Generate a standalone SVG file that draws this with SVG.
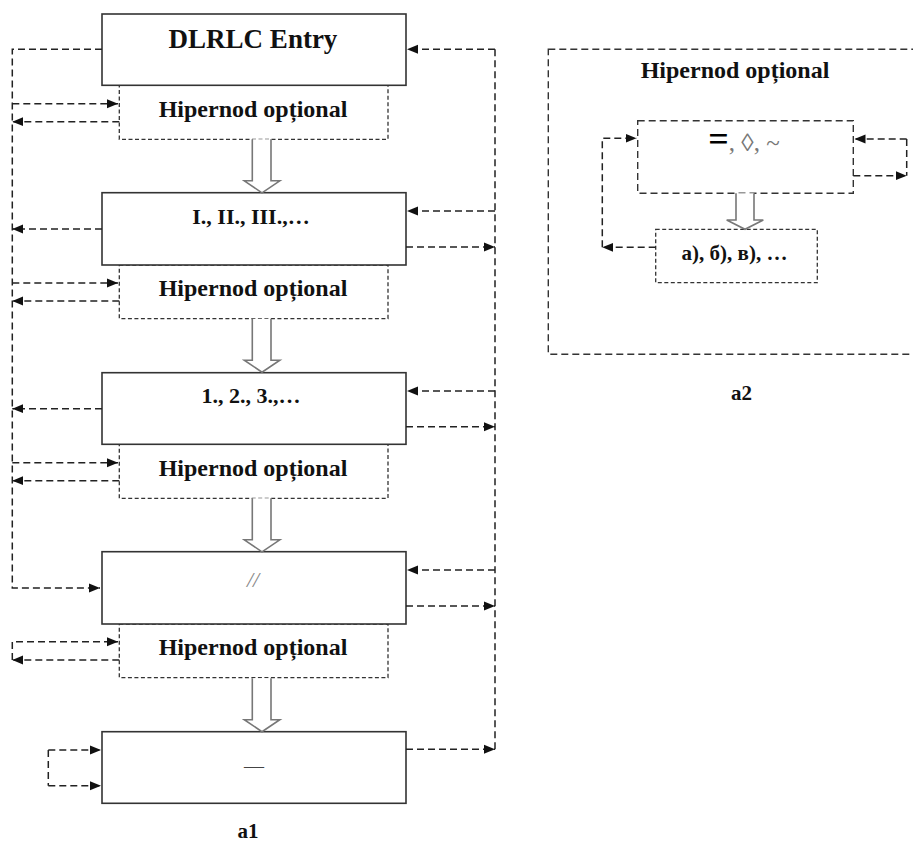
<svg xmlns="http://www.w3.org/2000/svg" width="913" height="843" viewBox="0 0 913 843">
<style>
.box{fill:#fff;stroke:#333;stroke-width:1.6}
.hbox{fill:#fff;stroke:#333;stroke-width:1.3;stroke-dasharray:4,2.5}
.dbox{fill:none;stroke:#333;stroke-width:1.4;stroke-dasharray:7,4}
.con{fill:none;stroke:#222;stroke-width:1.5;stroke-dasharray:7,4}
.blk{fill:#fff;stroke:#777;stroke-width:1.6;stroke-linejoin:miter}
.t{font-family:"Liberation Serif","Times New Roman",serif;font-weight:bold;fill:#111;text-anchor:middle}
.h{font-size:24px}
</style>
<defs>
<marker id="ah" markerUnits="userSpaceOnUse" markerWidth="12" markerHeight="11" refX="11" refY="5.5" orient="auto">
<path d="M0,1 L11,5.5 L0,10 Z" fill="#111"/>
</marker>
<path id="barrow" d="M252.3,0 V41.5 H244.3 L262,53.5 L279.8,41.5 H271 V0"/>
</defs>

<!-- a1 hipernod boxes -->
<g id="hip1"><rect class="hbox" x="119.3" y="85" width="268.7" height="54.3"/><text class="t h" x="253" y="116.7">Hipernod opțional</text></g>
<g id="hip2"><rect class="hbox" x="119.3" y="265" width="268.7" height="53.7"/><text class="t h" x="253" y="296">Hipernod opțional</text></g>
<g id="hip3"><rect class="hbox" x="119.3" y="444.3" width="268.7" height="54"/><text class="t h" x="253" y="475.5">Hipernod opțional</text></g>
<g id="hip4"><rect class="hbox" x="119.3" y="624" width="268.7" height="53.7"/><text class="t h" x="253" y="655">Hipernod opțional</text></g>

<!-- a1 solid boxes -->
<g id="entry"><rect class="box" x="102" y="14" width="304" height="71.3"/><text class="t" x="253" y="47.7" font-size="27">DLRLC Entry</text></g>
<g id="roman"><rect class="box" x="102" y="192.7" width="304" height="72.3"/><text class="t" x="251" y="224" font-size="22">I., II., III.,…</text></g>
<g id="arabic"><rect class="box" x="102" y="372.7" width="304" height="71.6"/><text class="t" x="251" y="403" font-size="22">1., 2., 3.,…</text></g>
<g id="slash"><rect class="box" x="102" y="551.7" width="304" height="72.3"/><text x="253" y="587" font-family="Liberation Serif, serif" font-style="italic" font-size="22" fill="#888" text-anchor="middle">//</text></g>
<g id="dash"><rect class="box" x="102" y="731.7" width="304" height="71.6"/><text x="254" y="773" font-family="Liberation Serif, serif" font-size="20" fill="#444" text-anchor="middle">—</text></g>

<!-- block arrows a1 -->
<g id="flow-arrows">
<use href="#barrow" class="blk" transform="translate(0,139.3)"/>
<use href="#barrow" class="blk" transform="translate(0,318.7)"/>
<use href="#barrow" class="blk" transform="translate(0,498.3)"/>
<use href="#barrow" class="blk" transform="translate(0,678.2)"/>
</g>

<!-- a2 -->
<g id="a2-outer"><rect class="dbox" x="548.3" y="49.3" width="380" height="305"/><text class="t h" x="735" y="78.3">Hipernod opțional</text></g>
<g id="a2-sym"><rect class="dbox" x="637.7" y="120.7" width="215.6" height="72.6"/><text class="t" x="744" y="151" font-size="25"><tspan font-size="36" fill="#000">=</tspan><tspan font-weight="normal" fill="#777">, ◊, ~</tspan></text></g>
<g id="a2-list"><rect class="hbox" x="655.7" y="229.3" width="161.6" height="53.4"/><text class="t" x="734.5" y="260" font-size="21">а), б), в), …</text></g>
<g id="a2-flow"><path class="blk" d="M736,193.3 V220 H726.7 L745,229.3 L763.3,220 H754 V193.3"/></g>

<!-- connectors -->
<g id="connectors">
<path class="con" d="M102,49.3 H12.3 V588 H100" marker-end="url(#ah)"/>
<path class="con" d="M12.3,103.7 H118" marker-end="url(#ah)"/>
<path class="con" d="M119.3,121.7 H12.3" marker-end="url(#ah)"/>
<path class="con" d="M102,229 H12.3" marker-end="url(#ah)"/>
<path class="con" d="M12.3,283 H118" marker-end="url(#ah)"/>
<path class="con" d="M119.3,301 H12.3" marker-end="url(#ah)"/>
<path class="con" d="M102,408.7 H12.3" marker-end="url(#ah)"/>
<path class="con" d="M12.3,462.7 H118" marker-end="url(#ah)"/>
<path class="con" d="M119.3,480.7 H12.3" marker-end="url(#ah)"/>
<path class="con" d="M119.3,660 H12.3" marker-end="url(#ah)"/>
<path class="con" d="M12.3,660 V641.7 H118" marker-end="url(#ah)"/>
<path class="con" d="M48.3,750 V785.7"/>
<path class="con" d="M48.3,750 H101" marker-end="url(#ah)"/>
<path class="con" d="M48.3,785.7 H101" marker-end="url(#ah)"/>

<path class="con" d="M495,749.3 V49.3"/>
<path class="con" d="M495,49.3 H407" marker-end="url(#ah)"/>
<path class="con" d="M495,211 H407" marker-end="url(#ah)"/>
<path class="con" d="M406,247 H495" marker-end="url(#ah)"/>
<path class="con" d="M495,391 H407" marker-end="url(#ah)"/>
<path class="con" d="M406,426.7 H495" marker-end="url(#ah)"/>
<path class="con" d="M495,570 H407" marker-end="url(#ah)"/>
<path class="con" d="M406,606 H495" marker-end="url(#ah)"/>
<path class="con" d="M406,749.3 H495" marker-end="url(#ah)"/>

<path class="con" d="M602.3,247.3 V138.3 H636.5" marker-end="url(#ah)"/>
<path class="con" d="M655.7,247.3 H602.3" marker-end="url(#ah)"/>
<path class="con" d="M906.7,139 V175.7"/>
<path class="con" d="M906.7,139 H854.5" marker-end="url(#ah)"/>
<path class="con" d="M853.3,175.7 H906.7" marker-end="url(#ah)"/>
</g>

<text class="t" x="248" y="838" font-size="21">a1</text>
<text class="t" x="741.5" y="400" font-size="21">a2</text>
</svg>
